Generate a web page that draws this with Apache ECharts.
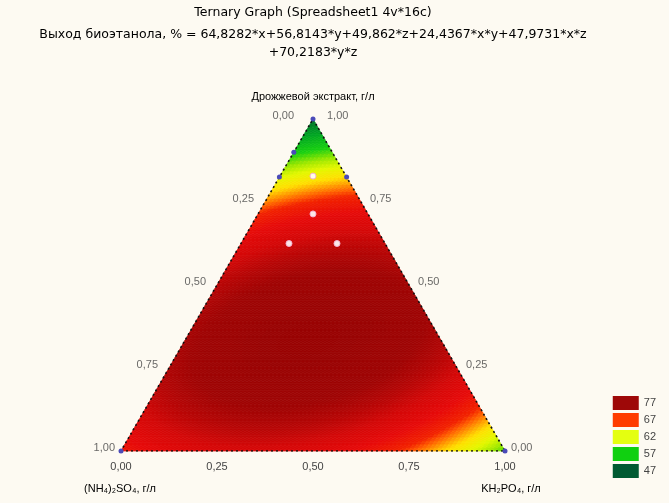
<!DOCTYPE html>
<html><head><meta charset="utf-8">
<script src="https://cdn.jsdelivr.net/npm/echarts@6/dist/echarts.min.js"></script>
<style>html,body{margin:0;padding:0;background:#fdfaf2}#c{width:669px;height:503px}</style>
</head><body><div id="c"></div><script>
// ---- chart content ----
const titleText = 'Ternary Graph (Spreadsheet1 4v*16c)';
const formulaLine1 = 'Выход биоэтанола, % = 64,8282*x+56,8143*y+49,862*z+24,4367*x*y+47,9731*x*z';
const formulaLine2 = '+70,2183*y*z';
// model coefficients read from the title: x, y, z, x*y, x*z, y*z
const coef = [64.8282, 56.8143, 49.862, 24.4367, 47.9731, 70.2183];
const topName = 'Дрожжевой экстракт, г/л';
const leftName = '(NH\u2084)\u2082SO\u2084, г/л';
const rightName = 'KH\u2082PO\u2084, г/л';
const tickValues = [0, 0.25, 0.5, 0.75, 1];
const legendLevels = ['77', '67', '62', '57', '47'];
// observed cases (fractions): a = (NH4)2SO4 (bottom-left), b = KH2PO4 (bottom-right), c = yeast extract (top)
const edgeA = [0, 0.10, 0.175, 0, 1, 0];
const edgeB = [0, 0, 0, 0.175, 0, 1];
const edgeC = [1, 0.90, 0.825, 0.825, 0, 0];
const innerA = [0.086, 0.143, 0.25, 0.125];
const innerB = [0.086, 0.143, 0.125, 0.25];
const innerC = [0.828, 0.714, 0.625, 0.625];

// ---- styling ----
const legendColors = ['#9e0808', '#ff3c00', '#e4ff10', '#10d010', '#005a32'];
const colorStops = [
  [47, '#004d2a'], [50, '#006e2c'], [53, '#00a424'], [56, '#18d010'], [58, '#a0e800'],
  [59.5, '#e4f800'], [61.2, '#ffe000'], [62.2, '#ffa000'], [63.2, '#ff5a00'], [64, '#f22200'],
  [66, '#e60a0a'], [68, '#d40808'], [69.5, '#b80606'], [71, '#a00505'], [77, '#8c0000']
];
function hex(c){return [parseInt(c.slice(1,3),16),parseInt(c.slice(3,5),16),parseInt(c.slice(5,7),16)];}
function colorAt(v){
  for(let k=0;k<colorStops.length-1;k++){
    const [v0,c0]=colorStops[k],[v1,c1]=colorStops[k+1];
    if(v<=v1){const t=Math.max(0,(v-v0)/(v1-v0));const a=hex(c0),b=hex(c1);
      return 'rgb('+a.map((x,i)=>Math.round(x+(b[i]-x)*t)).join(',')+')';}
  }
  return colorStops[colorStops.length-1][1];
}
const rampColors=[];for(let v=47;v<=77;v+=0.25)rampColors.push(colorAt(v));

function model(a,b,c){
  return coef[0]*a+coef[1]*b+coef[2]*c+coef[3]*a*b+coef[4]*a*c+coef[5]*b*c;
}
const N = 96;
const cells = [];
for(let i=0;i<N;i++)for(let j=0;j<N-i;j++){
  let b=(i+1/3)/N,c=(j+1/3)/N; cells.push([i,j,0,model(1-b-c,b,c)]);
  if(i+j<N-1){b=(i+2/3)/N;c=(j+2/3)/N; cells.push([i,j,1,model(1-b-c,b,c)]);}
}
function tern(b,c){return [b+c/2,c];}
function renderCell(params, api){
  const i=api.value(0), j=api.value(1), t=api.value(2);
  const vs = t===0 ? [[i,j],[i+1,j],[i,j+1]] : [[i+1,j],[i,j+1],[i+1,j+1]];
  const pts = vs.map(v=>api.coord(tern(v[0]/N,v[1]/N)));
  const col = api.visual('color');
  return {type:'polygon', shape:{points:pts}, style:{fill:col, stroke:col, lineWidth:0.7}};
}
const fmt = v => v.toFixed(2).replace('.', ',');
const FONT = 'Liberation Sans, Arial, sans-serif';
const lblStyle = {color:'#444', fontSize:11, fontFamily:FONT};
const ttlStyle = {color:'#4a4a4a', fontSize:12.5, fontFamily:'DejaVu Sans, sans-serif'};
// side labels
const leftLabels = tickValues.map(t => {
  const p = tern(0, 1-t);
  const d = t===0 ? 19 : (t===1 ? 6 : 11);
  return {value:p, label:Object.assign({show:true, position:'left', distance:d, offset:[0,-3], formatter:fmt(t)}, lblStyle)};
});
const rightLabels = tickValues.map(t => {
  const p = tern(1-t, t);
  const d = t===1 ? 14 : (t===0 ? 6 : 9);
  return {value:p, label:Object.assign({show:true, position:'right', distance:d, offset:[0,-3], formatter:fmt(t)}, lblStyle)};
});
const edgePts = edgeA.map((a,k)=>tern(edgeB[k],edgeC[k]));
const innerPts = innerA.map((a,k)=>tern(innerB[k],innerC[k]));

const chart = echarts.init(document.getElementById('c'), null, {renderer:'canvas'});
const series = [
  {type:'custom', name:'surface', renderItem:renderCell, data:cells, encode:{x:0,y:1},
   progressive:0, silent:true, z:1},
  {type:'line', name:'frame', data:[tern(0,0),tern(1,0),tern(0,1),tern(0,0)], symbol:'none',
   lineStyle:{color:'#111', width:1.6, type:[2,3]}, z:3, silent:true},
  {type:'scatter', name:'sideL', data:leftLabels, symbolSize:0, z:4, silent:true},
  {type:'scatter', name:'sideR', data:rightLabels, symbolSize:0, z:4, silent:true},
  {type:'scatter', name:'edgepts', data:edgePts, symbolSize:5, itemStyle:{color:'#4a4ab8', opacity:1}, z:5},
  {type:'scatter', name:'innerpts', data:innerPts, symbolSize:6,
   itemStyle:{color:'rgba(255,255,255,0.9)', borderColor:'#f4b0d0', borderWidth:1, opacity:1}, z:5}
];
legendLevels.forEach((l,k)=>series.push({type:'scatter', name:l, data:[], itemStyle:{color:legendColors[k], opacity:1}}));
chart.setOption({
  animation:false,
  backgroundColor:'#fdfaf2',
  grid:{left:121, top:119, width:384, height:332},
  xAxis:{type:'value', min:0, max:1, interval:0.25, axisLine:{show:false}, axisTick:{show:false},
    splitLine:{show:false}, axisLabel:Object.assign({formatter:fmt, margin:10}, lblStyle)},
  yAxis:{type:'value', min:0, max:1, show:false},
  visualMap:{type:'continuous', show:false, seriesIndex:0, dimension:3, min:47, max:77, inRange:{color:rampColors}},
  legend:{data:legendLevels, orient:'vertical', right:8, top:391, itemWidth:26, itemHeight:14, itemGap:3,
    icon:'rect', textStyle:{color:'#444', fontSize:11, fontFamily:FONT}},
  graphic:[
    {type:'text', x:313, y:13, style:Object.assign({text:titleText, align:'center', verticalAlign:'middle'}, ttlStyle)},
    {type:'text', x:313, y:35, style:Object.assign({text:formulaLine1, align:'center', verticalAlign:'middle'}, ttlStyle)},
    {type:'text', x:313, y:53, style:Object.assign({text:formulaLine2, align:'center', verticalAlign:'middle'}, ttlStyle)},
    {type:'text', x:313, y:97, style:Object.assign({text:topName, align:'center', verticalAlign:'middle'}, lblStyle)},
    {type:'text', x:120, y:489, style:Object.assign({text:leftName, align:'center', verticalAlign:'middle'}, lblStyle)},
    {type:'text', x:511, y:489, style:Object.assign({text:rightName, align:'center', verticalAlign:'middle'}, lblStyle)}
  ],
  series
});
</script></body></html>
